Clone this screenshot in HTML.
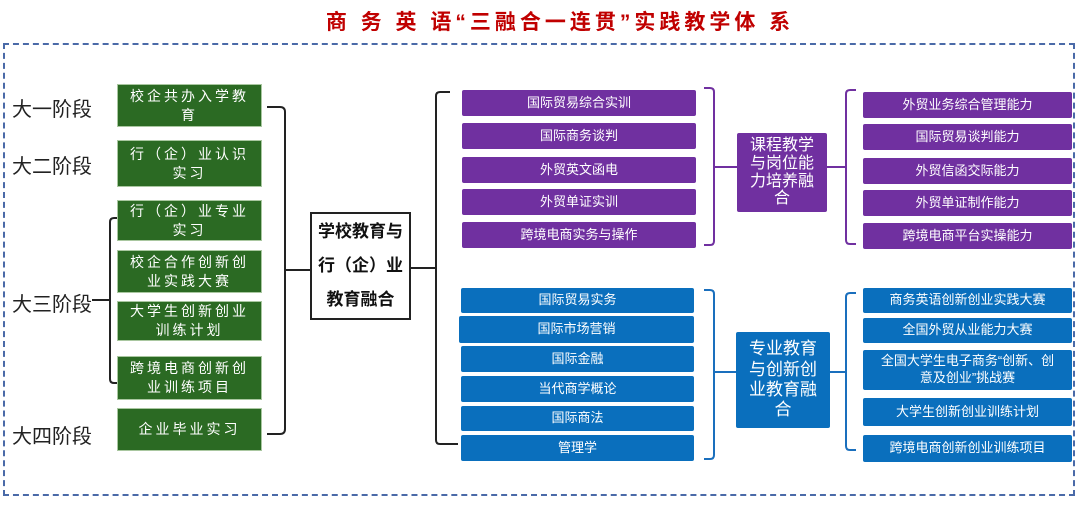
<!DOCTYPE html>
<html><head><meta charset="utf-8"><style>
body{margin:0;width:1080px;height:529px;background:#fff;position:relative;overflow:hidden;font-family:"Liberation Sans","Noto Sans CJK SC",sans-serif}
.b{position:absolute;color:#fff;display:flex;align-items:center;justify-content:center;text-align:center;box-sizing:border-box;line-height:1.3}
.g{background:#2b6a23;left:117px;width:145px;font-size:14px;letter-spacing:3px;border:1px solid #a9c7a0;padding:0 10px;line-height:1.35}
.p{background:#7030a0;font-size:13px;border-radius:2px}
.u{background:#0a6fbd;font-size:13px;border-radius:2px}
.s{position:absolute;left:12px;font-size:20px;color:#222}
</style></head><body>
<div style="position:absolute;left:300px;width:520px;top:6px;text-align:center;color:#c00000;font-size:21px;font-weight:bold;letter-spacing:4px;white-space:nowrap">商 务 英 语“三融合一连贯”实践教学体 系</div>
<div style="position:absolute;left:3px;top:43px;width:1072px;height:453px;border:2px dashed #4a6aa8;box-sizing:border-box"></div>
<svg style="position:absolute;left:0;top:0" width="1080" height="529" fill="none" stroke-width="2">
<g stroke="#222">
<path d="M267 107 H280 Q285 107 285 112 V429 Q285 434 280 434 H267"/>
<path d="M285 270 H310"/>
<path d="M122 218 H114 Q110 218 110 222 V379 Q110 383 114 383 H122"/>
<path d="M92 300 H110"/>
<path d="M450 92 H440 Q436 92 436 96 V440 Q436 444 440 444 H458"/>
<path d="M411 268 H436"/>
</g>
<g stroke="#7030a0">
<path d="M704 88 H710 Q714 88 714 92 V241 Q714 245 710 245 H704"/>
<path d="M714 167 H737"/>
<path d="M856 90 H850 Q846 90 846 94 V240 Q846 244 850 244 H856"/>
<path d="M827 167 H846"/>
</g>
<g stroke="#1a6fbd">
<path d="M704 290 H710 Q714 290 714 294 V455 Q714 459 710 459 H704"/>
<path d="M714 372 H736"/>
<path d="M856 293 H850 Q846 293 846 297 V446 Q846 450 850 450 H856"/>
<path d="M830 372 H846"/>
</g>
</svg>
<div class="s" style="top:93px">大一阶段</div>
<div class="s" style="top:150px">大二阶段</div>
<div class="s" style="top:288px">大三阶段</div>
<div class="s" style="top:420px">大四阶段</div>
<div class="b g" style="top:84px;height:43px">校企共办入学教育</div>
<div class="b g" style="top:140px;height:47px">行（企）业认识实习</div>
<div class="b g" style="top:200px;height:41px">行（企）业专业实习</div>
<div class="b g" style="top:250px;height:43px">校企合作创新创业实践大赛</div>
<div class="b g" style="top:301px;height:40px">大学生创新创业训练计划</div>
<div class="b g" style="top:356px;height:44px">跨境电商创新创业训练项目</div>
<div class="b g" style="top:408px;height:43px">企业毕业实习</div>
<div class="b" style="left:310px;top:212px;width:101px;height:108px;border:2px solid #222;color:#111;font-size:17px;font-weight:bold;line-height:2">学校教育与<br>行（企）业<br>教育融合</div>
<div class="b p" style="left:462px;top:90px;width:234px;height:26px">国际贸易综合实训</div>
<div class="b p" style="left:462px;top:123px;width:234px;height:26px">国际商务谈判</div>
<div class="b p" style="left:462px;top:157px;width:234px;height:26px">外贸英文函电</div>
<div class="b p" style="left:462px;top:189px;width:234px;height:26px">外贸单证实训</div>
<div class="b p" style="left:462px;top:222px;width:234px;height:26px">跨境电商实务与操作</div>
<div class="b p" style="left:737px;top:133px;width:90px;height:79px;font-size:16px;line-height:1.12">课程教学<br>与岗位能<br>力培养融<br>合</div>
<div class="b p" style="left:863px;top:92px;width:209px;height:26px">外贸业务综合管理能力</div>
<div class="b p" style="left:863px;top:124px;width:209px;height:26px">国际贸易谈判能力</div>
<div class="b p" style="left:863px;top:158px;width:209px;height:26px">外贸信函交际能力</div>
<div class="b p" style="left:863px;top:190px;width:209px;height:26px">外贸单证制作能力</div>
<div class="b p" style="left:863px;top:223px;width:209px;height:26px">跨境电商平台实操能力</div>
<div class="b u" style="left:461px;top:288px;width:233px;height:25px">国际贸易实务</div>
<div class="b u" style="left:459px;top:316px;width:235px;height:27px">国际市场营销</div>
<div class="b u" style="left:461px;top:346px;width:233px;height:26px">国际金融</div>
<div class="b u" style="left:461px;top:376px;width:233px;height:26px">当代商学概论</div>
<div class="b u" style="left:461px;top:406px;width:233px;height:25px">国际商法</div>
<div class="b u" style="left:461px;top:435px;width:233px;height:26px">管理学</div>
<div class="b u" style="left:736px;top:332px;width:94px;height:96px;font-size:17px;line-height:1.2">专业教育<br>与创新创<br>业教育融<br>合</div>
<div class="b u" style="left:863px;top:288px;width:209px;height:25px">商务英语创新创业实践大赛</div>
<div class="b u" style="left:863px;top:318px;width:209px;height:25px">全国外贸从业能力大赛</div>
<div class="b u" style="left:863px;top:350px;width:209px;height:40px">全国大学生电子商务“创新、创<br>意及创业”挑战赛</div>
<div class="b u" style="left:863px;top:398px;width:209px;height:28px">大学生创新创业训练计划</div>
<div class="b u" style="left:863px;top:435px;width:209px;height:27px">跨境电商创新创业训练项目</div>
</body></html>
